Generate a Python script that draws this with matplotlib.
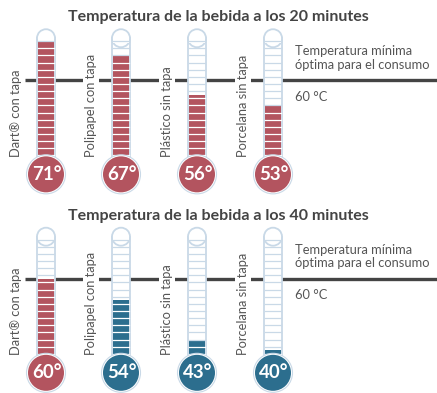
import matplotlib.pyplot as plt
from matplotlib.patches import Rectangle, Ellipse
import numpy as np

plt.rcParams['font.family'] = ['Lato', 'DejaVu Sans']

cups = ['Dart® con tapa', 'Polipapel con tapa', 'Plástico sin tapa', 'Porcelana sin tapa']
temps_20 = [71, 67, 56, 53]
temps_40 = [60, 54, 43, 40]
hot_20 = [True, True, True, True]
hot_40 = [True, False, False, False]
titles = ['Temperatura de la bebida a los 20 minutes',
          'Temperatura de la bebida a los 40 minutes']
threshold = 60

RED = '#b3545f'
BLUE = '#2c6e8e'
EDGE = '#c9d9e7'
DARK = '#444444'
GREY = '#555555'

W, H = 437, 393
fig = plt.figure(figsize=(W / 100, H / 100), dpi=100)

xs = [46, 121, 197, 273]        # tube centres, px
half = 9                        # tube half width, px
ylo, yhi = 27.5, 82.5
tube_bot, tube_top = 37.0, 71.8
bulb_c = 33.7
ppd = (H / 2) / (yhi - ylo)     # px per degree
bulb_r = 18


def panel(ax, temps, hot, title):
    ax.set_xlim(0, W)
    ax.set_ylim(ylo, yhi)
    ax.axis('off')
    ax.text(W / 2, 77.7, title, ha='center', va='center', fontsize=11.5,
            fontweight='bold', color=DARK)
    ax.plot([25, W], [threshold, threshold], color=DARK, lw=2.4, zorder=1,
            solid_capstyle='butt')
    ax.text(295, 66.2, 'Temperatura mínima\nóptima para el consumo', ha='left',
            va='center', fontsize=9.3, color=GREY, linespacing=1.15)
    ax.text(295, 55.4, '60 °C', ha='left', va='center', fontsize=9.3, color=GREY)

    cap_h = half / ppd
    for x, t, h, name in zip(xs, temps, hot, cups):
        col = RED if h else BLUE
        # glass tube with rounded top
        ax.add_patch(Rectangle((x - half, tube_bot), 2 * half, tube_top - tube_bot,
                               fc='white', ec=EDGE, lw=1.3, zorder=2))
        ax.add_patch(Ellipse((x, tube_top), 2 * half, 2 * cap_h, fc='white',
                             ec=EDGE, lw=1.3, zorder=2))
        ax.add_patch(Rectangle((x - half + 0.7, tube_top - 1.2), 2 * half - 1.4, 1.2,
                               fc='white', ec='none', zorder=2.1))
        # liquid column
        ax.add_patch(Rectangle((x - half + 1, tube_bot), 2 * half - 2, t - tube_bot,
                               fc=col, ec='none', zorder=3))
        # scale lines every 2 degrees
        for s in np.arange(39, tube_top, 2):
            c = 'white' if s < t else EDGE
            ax.plot([x - half + 1, x + half - 1], [s, s], color=c, lw=0.9, zorder=4)
        # bulb
        ax.add_patch(Ellipse((x, bulb_c), 2 * bulb_r + 3, (2 * bulb_r + 3) / ppd,
                             fc='white', ec=EDGE, lw=0.8, zorder=5))
        ax.add_patch(Ellipse((x, bulb_c), 2 * bulb_r, 2 * bulb_r / ppd,
                             fc=col, ec='none', zorder=6))
        ax.text(x + 1, bulb_c, f'{t}°', ha='center', va='center', fontsize=13.5,
                fontweight='bold', color='white', zorder=7)
        ax.text(x - 30, 38.6, name, rotation=90, rotation_mode='anchor',
                ha='left', va='center', fontsize=9.3, color=GREY, zorder=2,
                bbox=dict(fc='white', ec='none', pad=1.5))


ax1 = fig.add_axes([0, 0.5, 1, 0.5])
ax2 = fig.add_axes([0, -0.005, 1, 0.5])
panel(ax1, temps_20, hot_20, titles[0])
panel(ax2, temps_40, hot_40, titles[1])

fig.savefig('out.png', dpi=100)
